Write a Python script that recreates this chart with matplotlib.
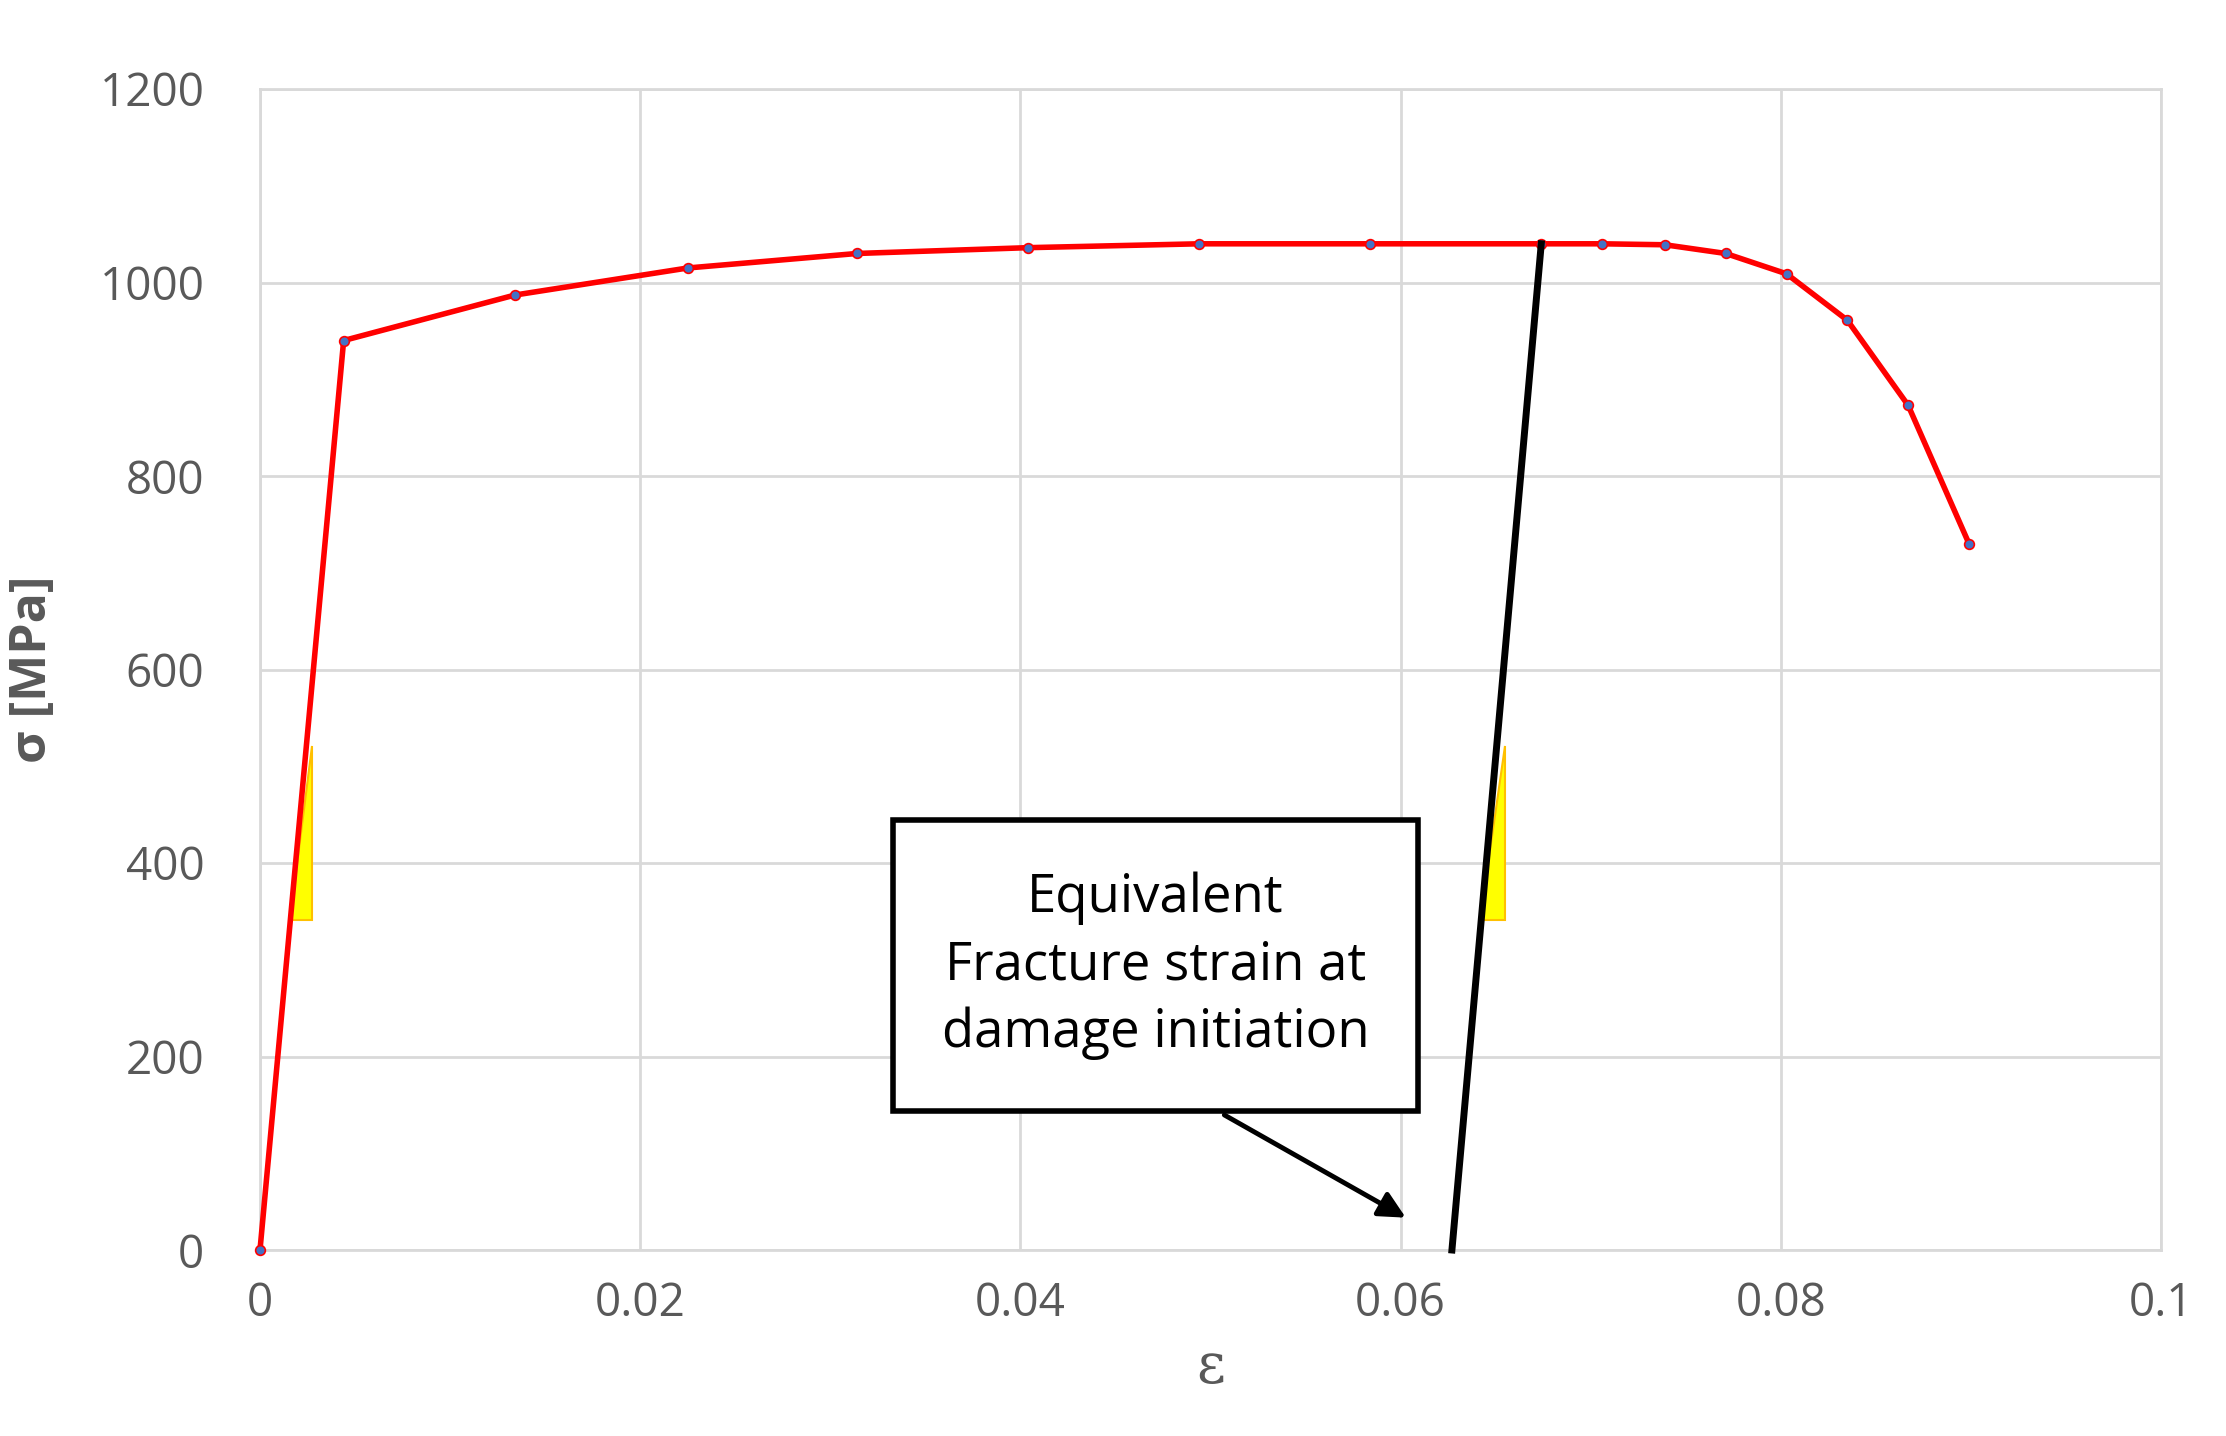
import numpy as np
import matplotlib.pyplot as plt
from matplotlib.patches import Polygon, Rectangle

strain = [0.0, 0.0044, 0.0134, 0.0225, 0.0314, 0.0404, 0.0494, 0.0584, 0.0674,
          0.0706, 0.0739, 0.0771, 0.0803, 0.0835, 0.0867, 0.0899]
stress = [0, 940, 987, 1015, 1030, 1036, 1040, 1040, 1040,
          1040, 1039, 1030, 1009, 961, 873, 730]

offset_x = [0.0627, 0.0674]
offset_y = [0, 1040]

tri_left = [(0.00157, 341), (0.00276, 341), (0.00276, 521)]
tri_right = [(0.0642, 341), (0.0655, 341), (0.0655, 521)]

box_x = [0.0333, 0.0609]
box_y = [144, 444]

plt.rcParams['font.family'] = ['Open Sans', 'DejaVu Sans']

fig = plt.figure(figsize=(22.26, 14.36), dpi=100)
ax = fig.add_axes([260 / 2226, 1 - 1250 / 1436, (2161 - 260) / 2226, (1250 - 89) / 1436])

ax.plot(strain, stress, color='red', lw=4, marker='o', ms=7, clip_on=False,
        markerfacecolor='#4472c4', markeredgecolor='red', markeredgewidth=1.2, zorder=3)
ax.plot(offset_x, offset_y, color='black', lw=5, zorder=4, clip_on=False)

for tri in (tri_left, tri_right):
    ax.add_patch(Polygon(tri, closed=True, facecolor='#ffff00', edgecolor='#ffc000', lw=1.5, zorder=2))

ax.set_xlim(0, 0.1)
ax.set_ylim(0, 1200)
ax.set_xticks([0, 0.02, 0.04, 0.06, 0.08, 0.1])
ax.set_xticklabels(['0', '0.02', '0.04', '0.06', '0.08', '0.1'])
ax.set_yticks(range(0, 1201, 200))
ax.grid(color='#d9d9d9', lw=2)
ax.set_axisbelow(True)
for s in ax.spines.values():
    s.set_color('#d9d9d9')
    s.set_linewidth(2)
ax.tick_params(length=0, labelsize=33, labelcolor='#595959')
ax.tick_params(axis='x', pad=22)
ax.tick_params(axis='y', pad=40)

ax.set_xlabel('ε', fontsize=40, color='#595959', family='DejaVu Serif', labelpad=10)
ax.set_ylabel('σ [MPa]', fontsize=36, color='#595959', fontweight='bold', labelpad=30)

ax.add_patch(Rectangle((box_x[0], box_y[0]), box_x[1] - box_x[0], box_y[1] - box_y[0],
                       facecolor='white', edgecolor='black', lw=4, zorder=5))
ax.text(np.mean(box_x), np.mean(box_y), 'Equivalent\nFracture strain at\ndamage initiation',
        ha='center', va='center', fontsize=38, linespacing=1.35, zorder=6)
ax.annotate('', xy=(0.0604, 32), xytext=(0.0506, 141),
            arrowprops=dict(arrowstyle='-|>', color='black', lw=3.5, mutation_scale=40))

fig.savefig('out.png', dpi=100)
